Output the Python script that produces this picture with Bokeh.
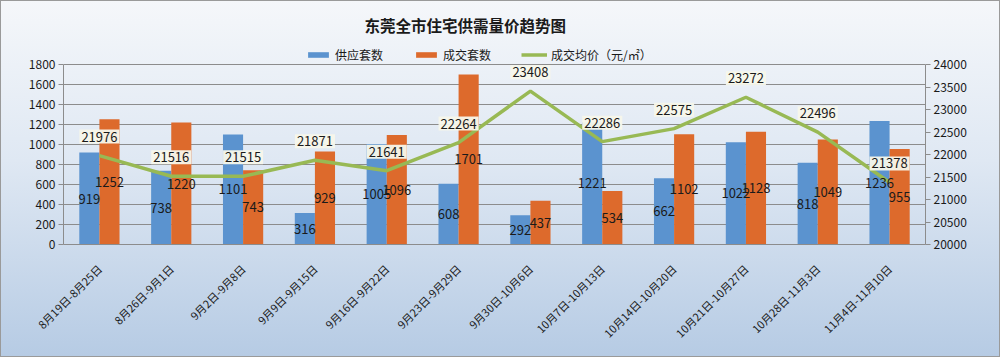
from bokeh.plotting import figure
from bokeh.models import (ColumnDataSource, FactorRange, Range1d, LinearAxis,
                          FixedTicker, Legend, LegendItem)
from bokeh.transform import dodge
from bokeh.core.properties import value
from bokeh.embed import file_html
from bokeh.resources import INLINE

weeks = ["8月19日-8月25日", "8月26日-9月1日", "9月2日-9月8日", "9月9日-9月15日",
         "9月16日-9月22日", "9月23日-9月29日", "9月30日-10月6日", "10月7日-10月13日",
         "10月14日-10月20日", "10月21日-10月27日", "10月28日-11月3日", "11月4日-11月10日"]
supply = [919, 738, 1101, 316, 1005, 608, 292, 1221, 662, 1022, 818, 1236]
deals = [1252, 1220, 743, 929, 1096, 1701, 437, 534, 1102, 1128, 1049, 955]
price = [21976, 21516, 21515, 21871, 21641, 22264, 23408, 22286, 22575, 23272, 22496, 21378]
left_ticks = [0, 200, 400, 600, 800, 1000, 1200, 1400, 1600, 1800]
right_ticks = [20000, 20500, 21000, 21500, 22000, 22500, 23000, 23500, 24000]

FONT = "Noto Sans CJK SC"
BLUE = "#5b93cf"
ORANGE = "#dd6a2c"
GREEN = "#98b954"
TXT = "#1a1a1a"
GRID = "#8c8c8c"

src = ColumnDataSource(dict(
    week=weeks, supply=supply, deals=deals, price=price,
    supply_mid=[v / 2 for v in supply], deals_mid=[v / 2 for v in deals],
    supply_txt=[str(v) for v in supply], deals_txt=[str(v) for v in deals],
    price_txt=[str(v) for v in price],
))

# frame extends 24px above the plot area (room for the legend)
LMAX = left_ticks[-1]
EXTRA = LMAX * 24 / 180
RMIN, RMAX = right_ticks[0], right_ticks[-1]
p = figure(x_range=FactorRange(*weeks), y_range=Range1d(0, LMAX + EXTRA),
           width=1000, height=357, output_backend="svg", toolbar_location=None,
           min_border_left=63, min_border_right=75, min_border_top=40, min_border_bottom=113)
p.extra_y_ranges = {"price": Range1d(RMIN, RMAX + (RMAX - RMIN) * 24 / 180)}

p.styles = {"background": "linear-gradient(#f5f7fa 0%, #dfe8f3 45%, #b6cbe4 100%)",
            "outline": "1px solid #9a9a9a", "outline-offset": "-1px"}
p.border_fill_color = None
p.background_fill_color = None
p.outline_line_color = None

W = 0.28
r_sup = p.vbar(x=dodge("week", -0.14, range=p.x_range), top="supply", width=W,
               source=src, fill_color=BLUE, line_color=None)
r_deal = p.vbar(x=dodge("week", 0.14, range=p.x_range), top="deals", width=W,
                source=src, fill_color=ORANGE, line_color=None)
r_line = p.line(x="week", y="price", source=src, y_range_name="price",
                line_color=GREEN, line_width=3.5)

p.text(x=dodge("week", -0.14, range=p.x_range), y="supply_mid", text="supply_txt", source=src,
       text_align="center", text_baseline="middle", text_font=value(FONT),
       text_font_size="13px", text_color=TXT)
p.text(x=dodge("week", 0.14, range=p.x_range), y="deals_mid", text="deals_txt", source=src,
       text_align="center", text_baseline="middle", text_font=value(FONT),
       text_font_size="13px", text_color=TXT)

p.text(x="week", y="price", text="price_txt", source=src, y_range_name="price",
       y_offset=-19, text_align="center", text_baseline="middle",
       text_font=value(FONT), text_font_size="13px", text_color=TXT,
       background_fill_color="#f7f7ea", background_fill_alpha=0.95, padding=2)

# axes
p.yaxis.ticker = FixedTicker(ticks=left_ticks)
p.yaxis.bounds = (0, LMAX)
right = LinearAxis(y_range_name="price", ticker=FixedTicker(ticks=right_ticks),
                   bounds=(RMIN, RMAX))
p.add_layout(right, "right")
for ax in [p.yaxis[0], right]:
    ax.axis_line_color = GRID
    ax.major_tick_line_color = GRID
    ax.major_tick_out = 5
    ax.major_tick_in = 0
    ax.minor_tick_line_color = None
    ax.major_label_text_font = FONT
    ax.major_label_text_font_size = "12px"
    ax.major_label_text_color = TXT
    ax.major_label_standoff = 3

p.xaxis.axis_line_color = GRID
p.xaxis.major_tick_line_color = None
p.xaxis.major_label_orientation = 0.785398
p.xaxis.major_label_text_font = FONT
p.xaxis.major_label_text_font_size = "11px"
p.xaxis.major_label_text_color = TXT
p.xaxis.major_label_standoff = 16

p.xgrid.grid_line_color = None
p.ygrid.grid_line_color = GRID
p.ygrid.grid_line_width = 1

legend = Legend(items=[LegendItem(label="供应套数", renderers=[r_sup]),
                       LegendItem(label="成交套数", renderers=[r_deal]),
                       LegendItem(label="成交均价（元/㎡）", renderers=[r_line])],
                orientation="horizontal", location=(242, 181),
                background_fill_alpha=0, border_line_color=None,
                label_text_font=FONT, label_text_font_size="12px", label_text_color=TXT,
                glyph_width=26, glyph_height=7, label_standoff=4, spacing=30,
                padding=2, margin=0)
p.add_layout(legend)

p.title.text = "东莞全市住宅供需量价趋势图"
p.title.align = "left"
p.title.offset = 301
p.title.text_font = FONT
p.title.text_font_size = "15.5px"
p.title.text_font_style = "bold"
p.title.text_color = TXT

open("out.html", "w").write(file_html(p, INLINE))
